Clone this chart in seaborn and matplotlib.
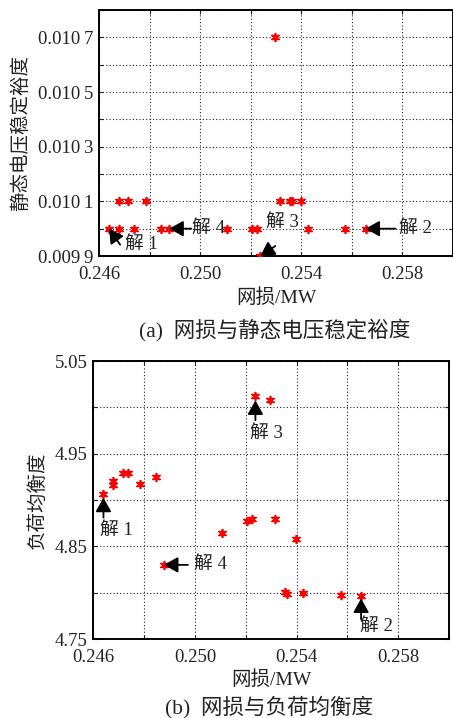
import matplotlib
matplotlib.use("Agg")
import matplotlib.pyplot as plt
import seaborn as sns
import pandas as pd
from matplotlib.ticker import FixedLocator, FixedFormatter

# Pareto solutions: network loss (MW), static voltage stability margin, load balance
loss = [0.24640, 0.24679, 0.24679, 0.24716, 0.24737, 0.24784, 0.24847, 0.24878,
        0.25107, 0.25204, 0.25225, 0.25238, 0.25297, 0.25317, 0.25354, 0.25363,
        0.25397, 0.25427, 0.25574, 0.25654]
margin = [0.0100, 0.0101, 0.0100, 0.0101, 0.0100, 0.0101, 0.0100, 0.0100,
          0.0100, 0.0100, 0.0100, 0.0099, 0.0107, 0.0101, 0.0101, 0.0101,
          0.0101, 0.0100, 0.0100, 0.0100]
balance = [4.907, 4.920, 4.916, 4.929, 4.929, 4.917, 4.925, 4.830,
           4.8645, 4.877, 4.880, 5.012, 5.008, 4.880, 4.801, 4.799,
           4.858, 4.800, 4.7975, 4.796]

x_ticks = [0.246, 0.248, 0.250, 0.252, 0.254, 0.256, 0.258, 0.260]
x_labels = ["0.246", "", "0.250", "", "0.254", "", "0.258", ""]
margin_ticks = [0.0099, 0.0100, 0.0101, 0.0102, 0.0103, 0.0104, 0.0105, 0.0106, 0.0107, 0.0108]
margin_labels = ["0.009\u20099", "", "0.010\u20091", "", "0.010\u20093", "",
                 "0.010\u20095", "", "0.010\u20097", ""]
balance_ticks = [4.75, 4.80, 4.85, 4.90, 4.95, 5.00, 5.05]
balance_labels = ["4.75", "", "4.85", "", "4.95", "", "5.05"]

# index of each highlighted solution
solutions = {"解 1": 0, "解 2": 19, "解 3": 11, "解 4": 7}

df = pd.DataFrame({"loss": loss, "margin": margin, "balance": balance})

sns.set_style("ticks")
plt.rcParams["font.family"] = ["Liberation Serif", "Noto Sans CJK SC"]
plt.rcParams["xtick.direction"] = "in"
plt.rcParams["ytick.direction"] = "in"

fig = plt.figure(figsize=(4.53, 7.18), dpi=100)
W, H = 453, 718
ax1 = fig.add_axes([99 / W, 1 - 256 / H, 354 / W, 246 / H])
ax2 = fig.add_axes([93.3 / W, 1 - 639 / H, 355.7 / W, 278 / H])


def style_axis(ax, yticks, ylabels, ylim):
    ax.set_xlim(0.246, 0.260)
    ax.set_ylim(*ylim)
    ax.xaxis.set_major_locator(FixedLocator(x_ticks))
    ax.xaxis.set_major_formatter(FixedFormatter(x_labels))
    ax.yaxis.set_major_locator(FixedLocator(yticks))
    ax.yaxis.set_major_formatter(FixedFormatter(ylabels))
    ax.grid(True, color="#222222", linestyle=(0, (1, 2)), linewidth=0.8)
    ax.tick_params(axis="both", which="both", direction="in", length=3,
                   width=0.8, top=True, right=True, labelsize=13.5,
                   colors="#222222")
    ax.tick_params(axis="x", pad=7)
    ax.tick_params(axis="y", pad=4)
    for s in ax.spines.values():
        s.set_linewidth(1.4)
        s.set_color("black")


def draw_marks(ax, ycol):
    sns.scatterplot(data=df, x="loss", y=ycol, ax=ax, marker=(6, 2, 0), s=30,
                    color="red", edgecolor="red", linewidth=1.3, legend=False,
                    zorder=3)


def label_solution(ax, ycol, name, tail, text_off, shrink=0):
    i = solutions[name]
    pt = (df["loss"][i], df[ycol][i])
    ax.annotate("", xy=pt, xytext=tail, textcoords="offset pixels",
                arrowprops=dict(arrowstyle="-|>,head_length=0.5,head_width=0.28",
                                color="black", lw=1.3, mutation_scale=17,
                                shrinkA=0, shrinkB=shrink),
                zorder=4)
    ax.annotate(name, xy=pt, xytext=text_off, textcoords="offset pixels",
                ha="left", va="center", fontsize=13.5, color="#222222", zorder=4)


# (a) loss vs. static voltage stability margin
draw_marks(ax1, "margin")
style_axis(ax1, margin_ticks, margin_labels, (0.0099, 0.0108))
ax1.set_xlabel("网损/MW", fontsize=14, labelpad=4, color="#222222")
ax1.set_ylabel("静态电压稳定裕度", fontsize=14, labelpad=6, color="#222222")
label_solution(ax1, "margin", "解 1", (11, -16), (16, -16))
label_solution(ax1, "margin", "解 4", (22, 0), (23, 0))
label_solution(ax1, "margin", "解 3", (15, 10), (6, 34))
label_solution(ax1, "margin", "解 2", (30, 0), (33, 0))

# (b) loss vs. load balance
draw_marks(ax2, "balance")
style_axis(ax2, balance_ticks, balance_labels, (4.75, 5.05))
ax2.set_xlabel("网损/MW", fontsize=14, labelpad=3, color="#222222")
ax2.set_ylabel("负荷均衡度", fontsize=14, labelpad=6, color="#222222")
label_solution(ax2, "balance", "解 1", (0, -24), (-3, -37), shrink=3)
label_solution(ax2, "balance", "解 3", (0, -24), (-5, -37), shrink=3)
label_solution(ax2, "balance", "解 4", (24, 0), (30, 0))
label_solution(ax2, "balance", "解 2", (0, -23), (-1, -30), shrink=1.5)

fig.text(275 / W, 1 - 330 / H, "(a)  网损与静态电压稳定裕度", ha="center",
         va="center", fontsize=15.5, color="#222222")
fig.text(269 / W, 1 - 707 / H, "(b)  网损与负荷均衡度", ha="center",
         va="center", fontsize=15.5, color="#222222")

fig.savefig("out.png", dpi=100)
